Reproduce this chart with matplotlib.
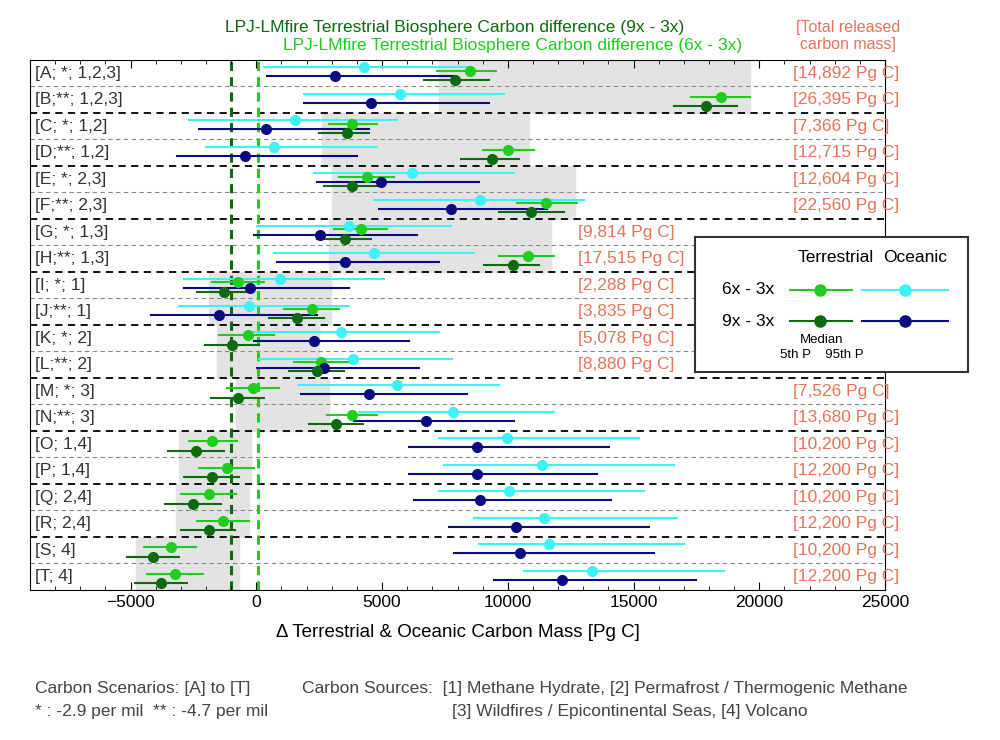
import matplotlib
matplotlib.use('Agg')
import matplotlib.pyplot as plt
from matplotlib.lines import Line2D

plt.rcParams['font.family'] = ['Liberation Sans', 'DejaVu Sans']

# Row labels and released carbon mass
labels = ['[A; *; 1,2,3]', '[B;**; 1,2,3]', '[C; *; 1,2]', '[D;**; 1,2]', '[E; *; 2,3]',
          '[F;**; 2,3]', '[G; *; 1,3]', '[H;**; 1,3]', '[I; *; 1]', '[J;**; 1]',
          '[K; *; 2]', '[L;**; 2]', '[M; *; 3]', '[N;**; 3]', '[O; 1,4]', '[P; 1,4]',
          '[Q; 2,4]', '[R; 2,4]', '[S; 4]', '[T; 4]']
released = ['[14,892 Pg C]', '[26,395 Pg C]', '[7,366 Pg C]', '[12,715 Pg C]', '[12,604 Pg C]',
            '[22,560 Pg C]', '[9,814 Pg C]', '[17,515 Pg C]', '[2,288 Pg C]', '[3,835 Pg C]',
            '[5,078 Pg C]', '[8,880 Pg C]', '[7,526 Pg C]', '[13,680 Pg C]', '[10,200 Pg C]',
            '[12,200 Pg C]', '[10,200 Pg C]', '[12,200 Pg C]', '[10,200 Pg C]', '[12,200 Pg C]']
released_x = [21350] * 6 + [12800] * 6 + [21350] * 8

# Terrestrial 6x - 3x (median, 5th, 95th)
t6_med = [8500, 18460, 3810, 10000, 4400, 11510, 4170, 10800, -720, 2220,
          -320, 2580, -120, 3810, -1750, -1150, -1900, -1310, -3410, -3220]
t6_lo = [7200, 17270, 2900, 9010, 3300, 10360, 3100, 9650, -1750, 1110,
         -1470, 1510, -1150, 2820, -2660, -2260, -2980, -2340, -4450, -4330]
t6_hi = [9530, 19650, 4800, 11040, 5480, 12740, 5200, 11830, 320, 3300,
         720, 3690, 910, 4800, -750, -80, -790, -280, -2380, -2140]
# Terrestrial 9x - 3x
t9_med = [7900, 17870, 3610, 9370, 3810, 10920, 3530, 10200, -1270, 1630,
          -950, 2420, -720, 3180, -2380, -1750, -2500, -1900, -4090, -3810]
t9_lo = [6670, 16600, 2500, 8140, 2700, 9650, 2420, 9050, -2340, 520,
         -2060, 1310, -1790, 2100, -3530, -2860, -3650, -2980, -5160, -4840]
t9_hi = [9250, 19100, 4490, 10440, 4880, 12230, 4570, 11240, -280, 2700,
         120, 3490, 320, 4250, -1270, -680, -1390, -830, -3060, -2740]
# Oceanic 6x - 3x
o6_med = [4290, 5720, 1550, 720, 6190, 8890, 3690, 4690, 950, -280,
          3380, 3850, 5600, 7820, 9970, 11350, 10040, 11430, 11630, 13340]
o6_lo = [320, 1910, -2660, -1990, 2300, 4690, 40, 720, -2860, -3060,
         -80, 120, 1710, 4090, 7270, 7460, 7270, 8660, 8850, 10640]
o6_hi = [8460, 9850, 5600, 4800, 10240, 13020, 7740, 8660, 5080, 3690,
         7270, 7780, 9650, 11830, 15200, 16600, 15400, 16710, 16990, 18580]
# Oceanic 9x - 3x
o9_med = [3140, 4570, 400, -440, 4960, 7740, 2540, 3530, -240, -1470,
          2300, 2700, 4490, 6750, 8770, 8770, 8890, 10320, 10480, 12150]
o9_lo = [440, 1910, -2260, -3140, 2420, 4880, -80, 830, -2860, -4170,
         -80, 40, 1790, 3890, 6070, 6070, 6270, 7660, 7860, 9450]
o9_hi = [7860, 9250, 4490, 4010, 8850, 11550, 6390, 7270, 3690, 2420,
         6070, 6470, 8380, 10240, 14010, 13540, 14090, 15600, 15800, 17470]

# Grey boxes per pair of rows
box_lo = [7265, 2620, 3017, 2898, -1866, -1548, -794, -3057, -3176, -4804]
box_hi = [19650, 10838, 12664, 11711, 2978, 2501, 2898, -198, -278, -675]

c_t6, c_t9, c_o6, c_o9 = '#1fcc1f', '#0e6a0e', '#3cf2f2', '#0b0b80'
salmon = '#e8735a'

fig = plt.figure(figsize=(10, 7.4), dpi=100)
ax = fig.add_axes([0.03, 0.203, 0.855, 0.716])
ax.set_xlim(-9000, 25000)
ax.set_ylim(19.5, -0.5)

for k in range(10):
    ax.fill_betweenx([2 * k - 0.5, 2 * k + 1.5], box_lo[k], box_hi[k], color='#e3e3e3', zorder=0)

for i in range(1, 20):
    if i % 2 == 0:
        ax.axhline(i - 0.5, color='black', ls=(0, (4, 3)), lw=1.3, zorder=1)
    else:
        ax.axhline(i - 0.5, color='#888888', ls=(0, (4, 3)), lw=0.8, zorder=1)

ax.axvline(-1000, color=c_t9, ls=(0, (3, 2)), lw=2.2, zorder=1)
ax.axvline(60, color=c_t6, ls=(0, (3, 2)), lw=2.2, zorder=1)

series = [(o6_med, o6_lo, o6_hi, c_o6, -0.22),
          (t6_med, t6_lo, t6_hi, c_t6, -0.1),
          (o9_med, o9_lo, o9_hi, c_o9, 0.12),
          (t9_med, t9_lo, t9_hi, c_t9, 0.25)]
for med, lo, hi, col, off in series:
    for i in range(20):
        y = i + off
        ax.plot([lo[i], hi[i]], [y, y], color=col, lw=1.5, zorder=3)
        ax.plot(med[i], y, 'o', color=col, ms=7, zorder=4)

for i in range(20):
    ax.text(-8800, i, labels[i], ha='left', va='center', fontsize=12.5, color='#333333')
    ax.text(released_x[i], i, released[i], ha='left', va='center', fontsize=12.5, color=salmon)

ax.set_yticks([])
ax.set_xticks(range(-5000, 25001, 5000))
ax.set_xticks(range(-9000, 25001, 1000), minor=True)
ax.tick_params(axis='x', which='both', direction='in', top=True, labelsize=12.5, length=6)
ax.tick_params(axis='x', which='minor', length=3)
ax.set_xlabel('Δ Terrestrial & Oceanic Carbon Mass [Pg C]', fontsize=13.5, labelpad=10)

fig.text(0.455, 0.963, 'LPJ-LMfire Terrestrial Biosphere Carbon difference (9x - 3x)',
         ha='center', va='center', fontsize=12.5, color=c_t9)
fig.text(0.513, 0.939, 'LPJ-LMfire Terrestrial Biosphere Carbon difference (6x - 3x)',
         ha='center', va='center', fontsize=12.5, color=c_t6)
fig.text(0.848, 0.951, '[Total released\ncarbon mass]', ha='center', va='center',
         fontsize=11.5, color=salmon, linespacing=1.2)

# Legend box
lg = fig.add_axes([0.695, 0.497, 0.273, 0.183])
lg.set_xlim(695, 968)
lg.set_ylim(372, 237)
lg.set_xticks([])
lg.set_yticks([])
for s in lg.spines.values():
    s.set_linewidth(1.5)
    s.set_color('#333333')
lg.text(836, 258, 'Terrestrial', ha='center', va='center', fontsize=12.5)
lg.text(915, 258, 'Oceanic', ha='center', va='center', fontsize=12.5)
lg.text(748, 290, '6x - 3x', ha='center', va='center', fontsize=12.5)
lg.text(748, 321, '9x - 3x', ha='center', va='center', fontsize=12.5)
for yy, ct, co in [(290, c_t6, c_o6), (321, c_t9, c_o9)]:
    lg.add_line(Line2D([790, 852], [yy, yy], color=ct, lw=1.5))
    lg.plot(820, yy, 'o', color=ct, ms=8)
    lg.add_line(Line2D([862, 948], [yy, yy], color=co, lw=1.5))
    lg.plot(905, yy, 'o', color=co, ms=8)
lg.text(822, 340, 'Median', ha='center', va='center', fontsize=9.5)
lg.text(822, 355, '5th P    95th P', ha='center', va='center', fontsize=9.5)

gray = '#444444'
fig.text(0.035, 0.069, 'Carbon Scenarios: [A] to [T]', fontsize=12.5, color=gray, va='center')
fig.text(0.035, 0.038, '* : -2.9 per mil  ** : -4.7 per mil', fontsize=12.5, color=gray, va='center')
fig.text(0.302, 0.069, 'Carbon Sources:  [1] Methane Hydrate, [2] Permafrost / Thermogenic Methane',
         fontsize=12.5, color=gray, va='center')
fig.text(0.452, 0.038, '[3] Wildfires / Epicontinental Seas, [4] Volcano', fontsize=12.5, color=gray, va='center')

fig.savefig('out.png', dpi=100)
